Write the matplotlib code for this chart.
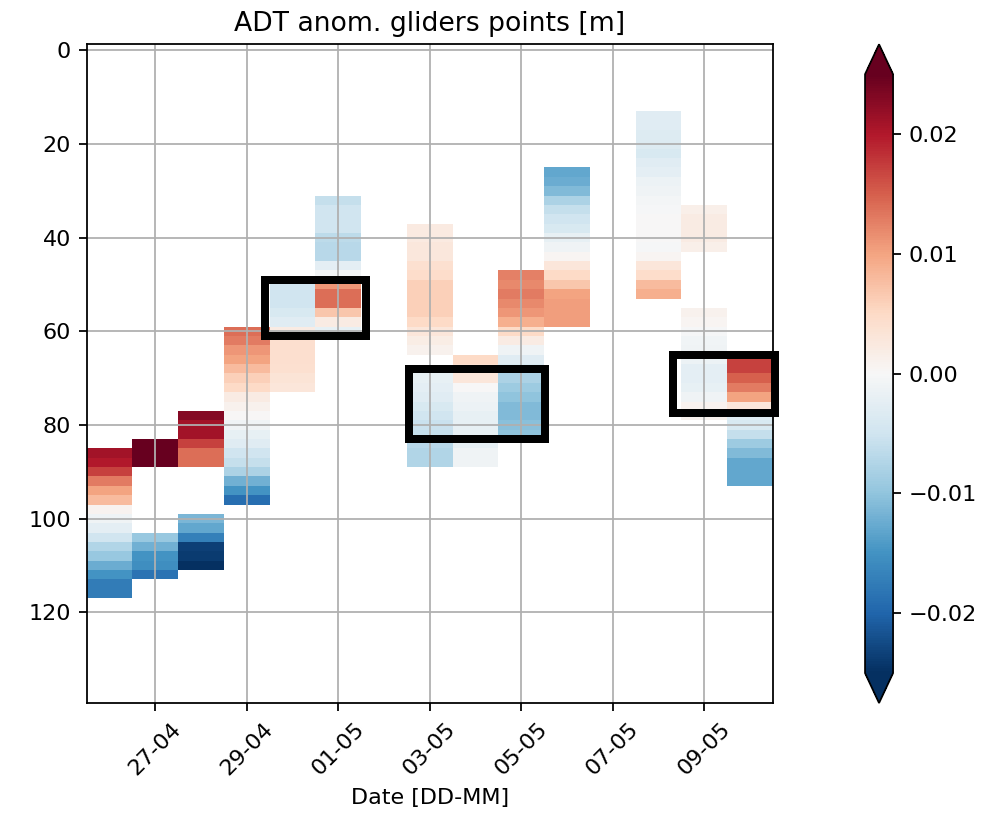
import numpy as np
import pandas as pd
import matplotlib
matplotlib.use('Agg')
import matplotlib.pyplot as plt
import matplotlib.dates as mdates
from matplotlib.patches import Rectangle

# glider profiles: day, top of first 2 m bin [m], ADT anomaly per 2 m bin [m]
profile_day = ['2022-04-26', '2022-04-27', '2022-04-27', '2022-04-28', '2022-04-28',
               '2022-04-29', '2022-04-30', '2022-05-01', '2022-05-03', '2022-05-03',
               '2022-05-04', '2022-05-05', '2022-05-06', '2022-05-08', '2022-05-09',
               '2022-05-09', '2022-05-10']
profile_top = [85, 83, 103, 77, 99, 59, 49, 31, 37, 69, 65, 47, 25, 13, 33, 55, 65]
profile_anom = [
    [0.021, 0.020, 0.017, 0.013, 0.010, 0.008, 0.0008, -0.001, -0.0025, -0.005,
     -0.0075, -0.0095, -0.0125, -0.015, -0.0175, -0.0175],
    [0.026, 0.026, 0.026],
    [-0.0095, -0.012, -0.015, -0.0155, -0.0185],
    [0.023, 0.021, 0.021, 0.017, 0.014, 0.014],
    [-0.0115, -0.013, -0.017, -0.0235, -0.024, -0.025],
    [0.014, 0.013, 0.011, 0.010, 0.008, 0.006, 0.005, 0.002, 0.001, 0.0,
     -0.001, -0.002, -0.003, -0.005, -0.006, -0.008, -0.012, -0.015, -0.019],
    [-0.005, -0.005, -0.005, -0.004, -0.003, 0.002, 0.0042, 0.0042, 0.0042, 0.004,
     0.0035, 0.003],
    [-0.006, -0.005, -0.005, -0.005, -0.0065, -0.007, -0.007, -0.0025, -0.0005, 0.011,
     0.014, 0.014, 0.007, 0.002, -0.002],
    [0.0022, 0.0022, 0.0028, 0.0028, 0.004, 0.0045, 0.006, 0.006, 0.006, 0.006,
     0.005, 0.003, 0.0018, 0.001],
    [-0.002, -0.0025, -0.003, -0.004, -0.005, -0.0055, -0.006, -0.007, -0.0075, -0.0075],
    [0.005, 0.004, 0.003, 0.0, -0.001, -0.0015, -0.002, -0.002, -0.002, -0.002,
     -0.001, -0.001],
    [0.0125, 0.012, 0.013, 0.012, 0.011, 0.009, 0.005, 0.002, -0.001, -0.003,
     -0.004, -0.008, -0.009, -0.010, -0.011, -0.011, -0.0105, -0.010],
    [-0.013, -0.0125, -0.011, -0.008, -0.006, -0.005, -0.004, -0.002, -0.001, 0.0005,
     0.003, 0.005, 0.007, 0.010, 0.0105, 0.0105, 0.0105],
    [-0.003, -0.003, -0.0035, -0.0035, -0.004, -0.003, -0.0025, -0.0015, -0.001, -0.0005,
     -0.0003, 0.0, 0.0, 0.0, -0.0002, 0.0005, 0.003, 0.0045, 0.008, 0.009],
    [0.0015, 0.002, 0.002, 0.002, 0.0015],
    [0.001, 0.0005, -0.0003, -0.0008, -0.001, -0.0015, -0.0025, -0.0025, -0.002, -0.001,
     0.0008, 0.001],
    [0.017, 0.017, 0.015, 0.013, 0.010, 0.003, -0.003, -0.004, -0.006, -0.009,
     -0.011, -0.013, -0.013, -0.013],
]

# highlighted areas: start, end, top depth, bottom depth
box_start = ['2022-04-29 09:36', '2022-05-02 13:12', '2022-05-08 07:41']
box_end = ['2022-05-01 14:38', '2022-05-05 12:14', '2022-05-10 13:12']
box_top = [49, 68, 65]
box_bottom = [61, 83, 77.5]

days = pd.date_range('2022-04-26', '2022-05-10', freq='D')
tick_days = pd.date_range('2022-04-27', '2022-05-09', freq='2D')
depth_edges = np.arange(1, 141, 2)

anom = np.full((len(depth_edges) - 1, len(days)), np.nan)
for day, top, vals in zip(profile_day, profile_top, profile_anom):
    j = days.get_loc(pd.Timestamp(day))
    i0 = (top - depth_edges[0]) // 2
    anom[i0:i0 + len(vals), j] = vals

x_edges = mdates.date2num(days) - 0.5
x_edges = np.append(x_edges, x_edges[-1] + 1)

fig = plt.figure(figsize=(983 / 160, 817 / 160), dpi=160)
ax = fig.add_axes([0.0882, 0.1395, 0.6979, 0.8063])
cax = fig.add_axes([0.880, 0.1395, 0.0285, 0.8063])

mesh = ax.pcolormesh(x_edges, depth_edges, np.ma.masked_invalid(anom),
                     cmap='RdBu_r', vmin=-0.025, vmax=0.025)

for s, e, t, b in zip(box_start, box_end, box_top, box_bottom):
    x0 = mdates.date2num(pd.Timestamp(s))
    x1 = mdates.date2num(pd.Timestamp(e))
    ax.add_patch(Rectangle((x0, t), x1 - x0, b - t, fill=False, edgecolor='black',
                           linewidth=3.6, joinstyle='miter', zorder=3, clip_on=False))

ax.set_xlim(x_edges[0], x_edges[-1])
ax.set_ylim(139.4, -1.3)
ax.set_xticks(mdates.date2num(tick_days))
ax.xaxis.set_major_formatter(mdates.DateFormatter('%d-%m'))
plt.setp(ax.get_xticklabels(), rotation=45)
ax.grid(True)
ax.set_title('ADT anom. gliders points [m]')
ax.set_xlabel('Date [DD-MM]')

cb = fig.colorbar(mesh, cax=cax, extend='both')
cb.set_ticks([-0.02, -0.01, 0.0, 0.01, 0.02])

fig.savefig('out.png', dpi=160)
